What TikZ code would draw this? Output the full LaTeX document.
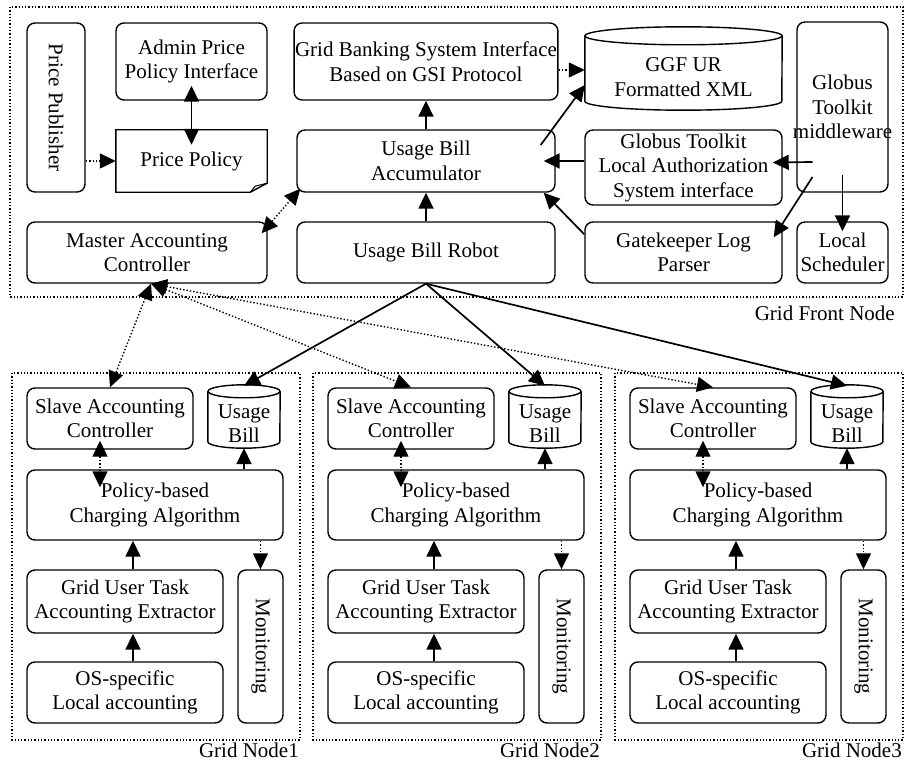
\documentclass[tikz,border=0pt]{standalone}
\usepackage{fontspec}
\setmainfont{Liberation Serif}
\usetikzlibrary{arrows.meta}

\begin{document}
\begin{tikzpicture}[x=1pt, y=-1pt, >={Triangle[length=16pt,width=15pt]},
  font=\fontsize{21}{24.5}\selectfont]

  % Node styles
  \tikzstyle{rbox}=[rectangle, rounded corners=8pt, draw, line width=1.4pt, align=center, inner sep=1pt]
  \tikzstyle{plain}=[rectangle, align=center, inner sep=1pt]
  \tikzstyle{frame}=[line width=1.3pt, dotted]
  \tikzstyle{lbl}=[anchor=east, inner sep=0pt]

  % Link styles
  \tikzstyle{arr}=[->, line width=1.7pt]
  \tikzstyle{arr2}=[<->, line width=1.7pt]
  \tikzstyle{darr}=[->, line width=1.4pt, dotted]
  \tikzstyle{darr2}=[<->, line width=1.4pt, dotted]

  \useasboundingbox (0,0) rectangle (906,760);

  % Front node
  \draw[frame] (10,7) rectangle (903,297);
  \node[lbl] (front_lbl) at (895,313) {Grid Front Node};

  \node[rbox, minimum width=58, minimum height=169] (pub) at (56,107.5) {\rotatebox{-90}{Price Publisher}};
  \node[rbox, minimum width=151, minimum height=77] (admin) at (191.5,61.5) {Admin Price\\Policy Interface};
  \node[plain, minimum width=151, minimum height=62] (policy) at (191.5,161) {Price Policy};
  \node[rbox, minimum width=240, minimum height=61] (master) at (147,252.5) {Master Accounting\\Controller};

  \node[rbox, minimum width=258, minimum height=77] (bank) at (426,61.5) {Grid Banking System Interface\\Based on GSI Protocol};
  \node[rbox, minimum width=258, minimum height=62] (accum) at (426,161) {Usage Bill\\Accumulator};
  \node[rbox, minimum width=258, minimum height=61] (robot) at (426,252.5) {Usage Bill Robot};

  \node[plain, minimum width=197, minimum height=66] (ggf) at (683.5,77) {GGF UR\\Formatted XML};
  \node[rbox, minimum width=197, minimum height=75] (auth) at (683.5,167.5) {Globus Toolkit\\Local Authorization\\System interface};
  \node[rbox, minimum width=197, minimum height=61] (gate) at (683.5,252.5) {Gatekeeper Log\\Parser};
  \node[rbox, minimum width=91, minimum height=170] (mw) at (842.5,107) {Globus\\Toolkit\\\makebox[0pt]{middleware}};
  \node[rbox, minimum width=91, minimum height=61] (sched) at (842.5,252.5) {Local\\Scheduler};

  % Document and cylinder outlines
  \draw[line width=1.4pt] (policy.north west) -- (policy.north east) -- ([yshift=9pt]policy.south east)
    -- ([xshift=-17pt]policy.south east) -- (policy.south west) -- cycle;
  \draw[line width=1pt] ([xshift=-17pt]policy.south east) -- ([shift={(-12pt,6pt)}]policy.south east) -- ([yshift=9pt]policy.south east);

  \draw[line width=1.4pt] ([yshift=8pt]ggf.north west) -- ([yshift=9pt]ggf.south west)
    arc[start angle=180, end angle=360, x radius=98.5pt, y radius=9pt] -- ([yshift=8pt]ggf.north east);
  \draw[line width=1.4pt] ([yshift=8pt]ggf.north) ellipse [x radius=98.5pt, y radius=9pt];

  % Front links
  \draw[darr] (pub.east |- policy.west) -- (policy.west);
  \draw[arr2] ([yshift=15pt]admin.south) -- ([yshift=-15pt]policy.north);
  \draw[arr] (accum.north) -- (bank.south);
  \draw[arr] (robot.north) -- (accum.south);
  \draw[darr] ([yshift=-8.5pt]bank.east) -- ([yshift=7pt]ggf.west);
  \draw[arr] ([shift={(-15pt,16pt)}]accum.east) -- ([yshift=-8pt]ggf.west);
  \draw[arr] (auth.west |- accum.east) -- ([xshift=-12pt]accum.east);
  \draw[arr] ([yshift=-13pt]gate.north west) -- ([xshift=-12pt]accum.south east);
  \draw[arr] ([shift={(-30pt,-55pt)}]mw.center) -- ([shift={(-10pt,5pt)}]auth.east);
  \draw[arr] ([shift={(-30pt,-70pt)}]mw.center) -- ([shift={(-9pt,-16pt)}]gate.north east);
  \draw[arr] ([yshift=-68pt]mw.center) -- ([yshift=-10pt]sched.north);
  \draw[darr2] ([shift={(-6pt,-12pt)}]master.north east) -- ([shift={(4pt,4pt)}]accum.south west);

  % Grid nodes
  \foreach \x/\k in {12/1, 313/2, 615/3} {
    \draw[frame] (\x,373) rectangle ({\x+288},740);
    \node[lbl] (lbl_\k) at ({\x+287},750) {Grid Node\k};

    \node[rbox, minimum width=166, minimum height=61] (slave_\k) at ({\x+98},418.5) {Slave Accounting\\Controller};
    \node[plain, minimum width=72, minimum height=49] (bill_\k) at ({\x+232},423.5) {Usage\\Bill};
    \node[rbox, minimum width=256, minimum height=70] (charge_\k) at ({\x+143},505) {Policy-based\\Charging Algorithm};
    \node[rbox, minimum width=196, minimum height=63] (extract_\k) at ({\x+113},601.5) {Grid User Task\\Accounting Extractor};
    \node[rbox, minimum width=196, minimum height=61] (os_\k) at ({\x+113},692.5) {OS-specific\\Local accounting};
    \node[rbox, minimum width=45, minimum height=153] (mon_\k) at ({\x+248.5},646.5) {\rotatebox{-90}{Monitoring}};

    \draw[line width=1.4pt] ([yshift=7.5pt]bill_\k.north west) -- ([yshift=6.5pt]bill_\k.south west)
      arc[start angle=180, end angle=360, x radius=36pt, y radius=6.5pt] -- ([yshift=7.5pt]bill_\k.north east);
    \draw[line width=1.4pt] ([yshift=7.5pt]bill_\k.north) ellipse [x radius=36pt, y radius=6.5pt];

    \draw[darr2] ([shift={(-10pt,9pt)}]slave_\k.south) -- ([shift={(-10pt,-18pt)}]slave_\k.south |- charge_\k.north);
    \draw[arr] (bill_\k.south |- charge_\k.north) -- (bill_\k.south);
    \draw[darr] (mon_\k.north |- charge_\k.south) -- (mon_\k.north);
    \draw[arr] ([xshift=8pt]extract_\k.north) -- ([xshift=8pt]extract_\k.north |- charge_\k.south);
    \draw[arr] ([xshift=8pt]os_\k.north) -- ([xshift=8pt]extract_\k.south);
  }

  % Links to grid nodes
  \foreach \k in {1,2,3} {
    \draw[darr2] ([xshift=4pt]master.south) -- (slave_\k.north);
    \draw[arr] (robot.south) -- ([yshift=13pt]bill_\k.north);
  }

\end{tikzpicture}
\end{document}
